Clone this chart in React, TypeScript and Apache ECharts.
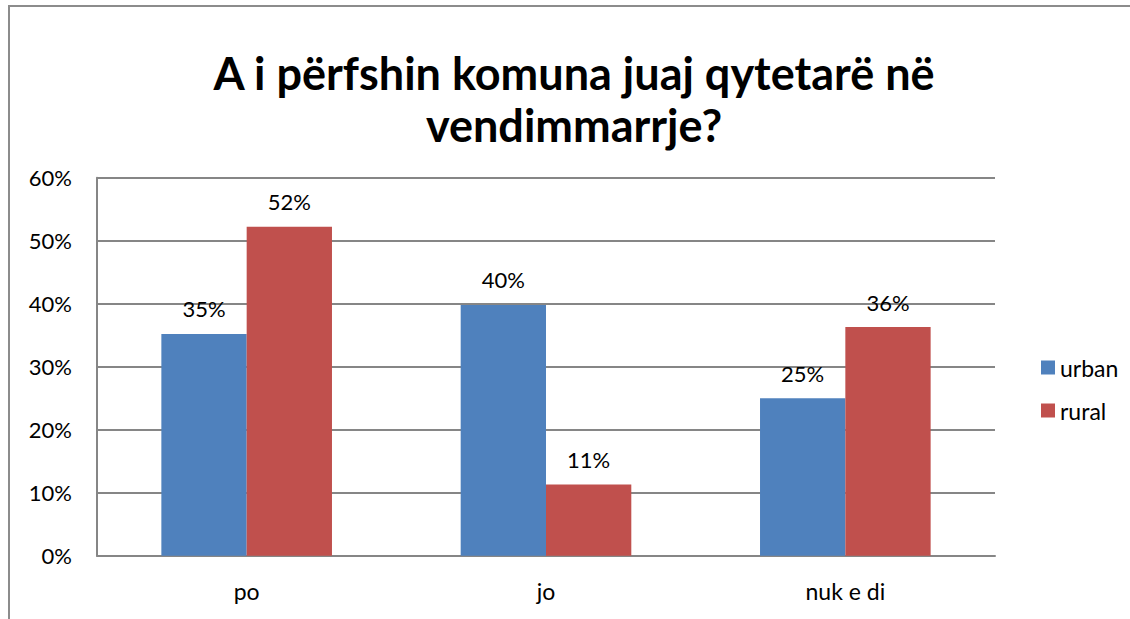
import React, { useEffect, useRef } from "react";
import * as echarts from "echarts";

const categories = ["po", "jo", "nuk e di"];
const urban = [35.2, 39.8, 25.0];
const rural = [52.2, 11.3, 36.3];
const seriesNames = ["urban", "rural"];
const titleLines = ["A i përfshin komuna juaj qytetarë në", "vendimmarrje?"];

const FONT = "Lato";

export default function App() {
  const ref = useRef<HTMLDivElement>(null);
  useEffect(() => {
    if (!ref.current) return;
    const chart = echarts.init(ref.current, undefined, { renderer: "svg" });
    const labelCfg = {
      show: true,
      position: "top" as const,
      distance: 14,
      fontFamily: FONT,
      fontSize: 22,
      color: "#000",
      formatter: (p: any) => Math.round(p.value) + "%",
    };
    chart.setOption({
      animation: false,
      backgroundColor: "#fff",
      textStyle: { fontFamily: FONT },
      graphic: [
        {
          type: "rect",
          shape: { x: 9, y: 6, width: 1300, height: 800 },
          style: { fill: "none", stroke: "#8c8c8c", lineWidth: 2 },
          z: 0,
        },
        {
          type: "text",
          x: 574,
          y: 73,
          style: {
            text: titleLines[0],
            fontFamily: FONT,
            fontWeight: "bold",
            fontSize: 45,
            fill: "#000",
            textAlign: "center",
            textVerticalAlign: "middle",
          },
        },
        {
          type: "text",
          x: 574,
          y: 125,
          style: {
            text: titleLines[1],
            fontFamily: FONT,
            fontWeight: "bold",
            fontSize: 45,
            fill: "#000",
            textAlign: "center",
            textVerticalAlign: "middle",
          },
        },
      ],
      grid: { left: 97, top: 177.7, right: 135, bottom: 63.3, containLabel: false },
      legend: {
        orient: "vertical",
        left: 1036,
        top: 351,
        itemWidth: 14,
        itemHeight: 14,
        itemGap: 20,
        icon: "rect",
        textStyle: { fontFamily: FONT, fontSize: 23, color: "#000" },
        data: seriesNames,
      },
      xAxis: {
        type: "category",
        data: categories,
        axisLine: { show: true, lineStyle: { color: "#868686", width: 2 } },
        axisTick: { show: false },
        axisLabel: { fontFamily: FONT, fontSize: 23, color: "#000", margin: 24 },
      },
      yAxis: {
        type: "value",
        min: 0,
        max: 60,
        interval: 10,
        axisLine: { show: true, lineStyle: { color: "#868686", width: 2 } },
        axisTick: { show: false },
        axisLabel: {
          fontFamily: FONT,
          fontSize: 22,
          color: "#000",
          margin: 25,
          formatter: "{value}%",
        },
        splitLine: { show: true, lineStyle: { color: "#868686", width: 2 } },
      },
      series: [
        {
          name: seriesNames[0],
          type: "bar",
          data: urban,
          barGap: "0%",
          barCategoryGap: "43%",
          itemStyle: { color: "#4F81BD" },
          label: labelCfg,
        },
        {
          name: seriesNames[1],
          type: "bar",
          data: rural,
          barGap: "0%",
          barCategoryGap: "43%",
          itemStyle: { color: "#C0504D" },
          label: labelCfg,
        },
      ],
    });
    return () => chart.dispose();
  }, []);
  return (
    <div
      ref={ref}
      style={{ position: "fixed", left: 0, top: 0, width: 1130, height: 619 }}
    />
  );
}
